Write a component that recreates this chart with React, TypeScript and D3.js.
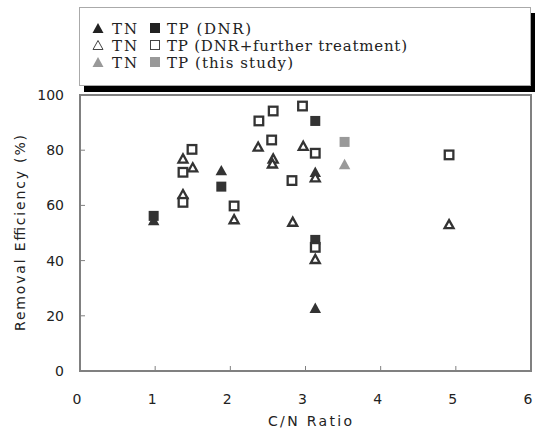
import React from "react";
import * as d3 from "d3";

const tnDnrX = [0.98, 1.88, 3.13, 3.13];
const tnDnrY = [54.7, 72.8, 72.2, 22.9];
const tpDnrX = [0.98, 1.88, 3.13, 3.13];
const tpDnrY = [56.2, 66.8, 90.6, 47.5];
const tnFurtherX = [1.37, 1.37, 1.5, 2.05, 2.37, 2.57, 2.56, 2.83, 2.97, 3.13, 3.13, 4.91];
const tnFurtherY = [77.0, 64.1, 73.8, 55.0, 81.3, 77.0, 75.2, 54.1, 81.6, 70.2, 40.6, 53.2];
const tpFurtherX = [1.37, 1.37, 1.49, 2.05, 2.38, 2.57, 2.55, 2.82, 2.96, 3.13, 3.13, 4.91];
const tpFurtherY = [72.0, 61.1, 80.3, 59.8, 90.6, 94.2, 83.7, 69.0, 96.0, 78.9, 44.8, 78.3];
const tnThisX = [3.52];
const tnThisY = [75.0];
const tpThisX = [3.52];
const tpThisY = [83.0];

const xTicks = [0, 1, 2, 3, 4, 5, 6];
const yTicks = [0, 20, 40, 60, 80, 100];
const legendLabels = ["TP (DNR)", "TP (DNR+further treatment)", "TP (this study)"];
const legendFills = ["#222", "#fff", "#999"];
const legendWidths = [84, 240, 126];

const L = 80, R = 531, T = 95, B = 371;
const x = d3.scaleLinear().domain([0, 6]).range([L, R]);
const y = d3.scaleLinear().domain([0, 100]).range([B, T]);

const triPath = (cx: number, cy: number, s: number) => {
  const h = s * 0.9;
  return `M${cx},${cy - h / 2}L${cx + s / 2},${cy + h / 2}L${cx - s / 2},${cy + h / 2}Z`;
};

type MarkProps = { cx: number; cy: number; fill: string };
const Tri = ({ cx, cy, fill }: MarkProps) =>
  fill === "#fff" ? (
    <path d={triPath(cx, cy, 9)} fill="#fff" stroke="#333" strokeWidth={2.3} strokeLinejoin="miter" />
  ) : (
    <path d={triPath(cx, cy, 11.5)} fill={fill} />
  );
const Sq = ({ cx, cy, fill }: MarkProps) =>
  fill === "#fff" ? (
    <rect x={cx - 4.3} y={cy - 4.3} width={8.6} height={8.6} fill="#fff" stroke="#333" strokeWidth={2.3} />
  ) : (
    <rect x={cx - 5} y={cy - 5} width={10} height={10} fill={fill} />
  );

export default function App() {
  const axisColor = "#808080";
  const sans = "'DejaVu Sans', sans-serif";
  const serif = "'DejaVu Serif', serif";
  return (
    <svg width={536} height={430} style={{ position: "absolute", left: 0, top: 0 }}>
      <rect x={0} y={0} width={536} height={430} fill="#fff" />
      {/* legend */}
      <rect x={84} y={13} width={451} height={79} fill="#000" />
      <rect x={79.5} y={7.5} width={451} height={78} fill="#fff" stroke="#aaa" strokeWidth={1} />
      {legendLabels.map((lab, i) => {
        const cy = 28 + i * 17;
        const f = legendFills[i];
        return (
          <g key={i}>
            {f === "#fff" ? (
              <path d={triPath(98, cy, 10)} fill="#fff" stroke="#444" strokeWidth={1} />
            ) : (
              <path d={triPath(98, cy, 11)} fill={f} />
            )}
            <text x={112} y={cy + 5.5} fontFamily={serif} fontSize={15} fill="#222" textLength={25} lengthAdjust="spacing">TN</text>
            {f === "#fff" ? (
              <rect x={150.5} y={cy - 4.5} width={9} height={9} fill="#fff" stroke="#444" strokeWidth={1} />
            ) : (
              <rect x={150} y={cy - 5} width={10} height={10} fill={f} />
            )}
            <text x={167} y={cy + 5.5} fontFamily={serif} fontSize={15} fill="#222" textLength={legendWidths[i]} lengthAdjust="spacing">{lab}</text>
          </g>
        );
      })}
      {/* plot frame */}
      <rect x={L} y={T} width={R - L} height={B - T} fill="none" stroke={axisColor} strokeWidth={2} />
      {yTicks.slice(1, -1).map((t) => (
        <line key={"yt" + t} x1={L} x2={L + 5} y1={y(t)} y2={y(t)} stroke={axisColor} strokeWidth={1} />
      ))}
      {xTicks.slice(1, -1).map((t) => (
        <line key={"xt" + t} x1={x(t)} x2={x(t)} y1={B} y2={B - 5} stroke={axisColor} strokeWidth={1} />
      ))}
      {yTicks.map((t) => (
        <text key={"yl" + t} x={64} y={y(t) + 5} textAnchor="end" fontFamily={sans} fontSize={14} fill="#222">{t}</text>
      ))}
      {xTicks.map((t) => (
        <text key={"xl" + t} x={x(t) - 3} y={404} textAnchor="middle" fontFamily={sans} fontSize={14} fill="#222">{t}</text>
      ))}
      <text x={268} y={426} fontFamily={sans} fontSize={14} fill="#222" textLength={84} lengthAdjust="spacing">C/N Ratio</text>
      <text transform={`translate(25,${331}) rotate(-90)`} fontFamily={sans} fontSize={14} fill="#222" textLength={196} lengthAdjust="spacing">Removal Efficiency (%)</text>
      {/* marks */}
      {tnDnrX.map((v, i) => <Tri key={"a" + i} cx={x(v)} cy={y(tnDnrY[i])} fill="#333" />)}
      {tpDnrX.map((v, i) => <Sq key={"b" + i} cx={x(v)} cy={y(tpDnrY[i])} fill="#333" />)}
      {tnFurtherX.map((v, i) => <Tri key={"c" + i} cx={x(v)} cy={y(tnFurtherY[i])} fill="#fff" />)}
      {tpFurtherX.map((v, i) => <Sq key={"d" + i} cx={x(v)} cy={y(tpFurtherY[i])} fill="#fff" />)}
      {tnThisX.map((v, i) => <Tri key={"e" + i} cx={x(v)} cy={y(tnThisY[i])} fill="#999" />)}
      {tpThisX.map((v, i) => <Sq key={"f" + i} cx={x(v)} cy={y(tpThisY[i])} fill="#999" />)}
    </svg>
  );
}
